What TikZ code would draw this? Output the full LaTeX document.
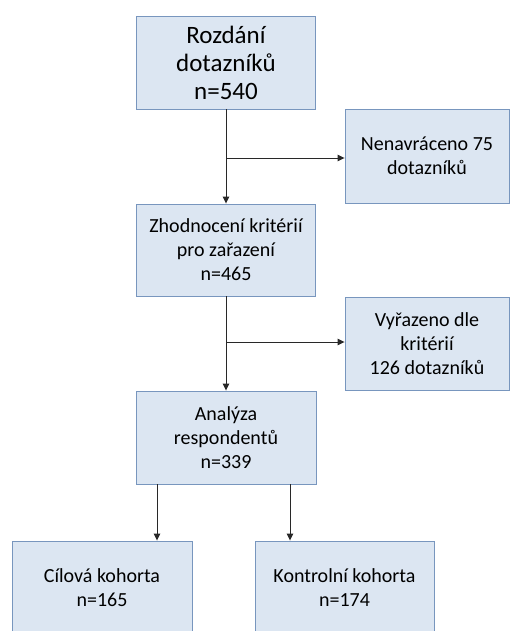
\documentclass[tikz,border=0pt]{standalone}
\usepackage{fontspec}
\setmainfont{Carlito}
\usepackage{tikz}
\usetikzlibrary{positioning, arrows.meta}
\usepackage{xcolor}

\definecolor{boxfill}{RGB}{220,230,242}
\definecolor{boxline}{RGB}{120,150,190}
\definecolor{arrline}{RGB}{40,40,40}

\begin{document}
\begin{tikzpicture}[x=1pt, y=-1pt,
    stage/.style={draw=boxline, fill=boxfill, line width=0.9pt, align=center,
        inner sep=0pt, minimum width=179pt, minimum height=93pt,
        font=\fontsize{20}{24}\selectfont},
    sidebox/.style={stage, minimum width=164pt},
    flow/.style={draw=arrline, line width=0.9pt, -{Triangle[length=7pt, width=6.5pt]}}]
    \useasboundingbox (0,0) rectangle (515,631);

    % Main column
    \node[stage, font=\fontsize{25}{28}\selectfont] (rozdani) at (226,62.5)
        {Rozdání\\dotazníků\\n=540};
    \node[stage, minimum height=92pt] (zhodnoceni) at (226,250)
        {Zhodnocení kritérií\\pro zařazení\\n=465};
    \node[stage, minimum width=180pt] (analyza) at (226,437.5)
        {Analýza\\respondentů\\n=339};

    % Side boxes (excluded)
    \node[sidebox, minimum height=94pt] (nenavraceno) at (427,156)
        {Nenavráceno 75\\dotazníků};
    \node[sidebox] (vyrazeno) at (427,343.5)
        {Vyřazeno dle\\kritérií\\126 dotazníků};

    % Cohorts (cut by the bottom edge)
    \node[stage, minimum width=180pt] (cilova) at (102,587.5)
        {Cílová kohorta\\n=165};
    \node[stage] (kontrolni) at (344.5,587.5)
        {Kontrolní kohorta\\n=174};

    % Arrows
    \coordinate (odbocka1) at (rozdani.south |- 0,158);
    \coordinate (odbocka2) at (zhodnoceni.south |- 0,342);
    \draw[flow] (rozdani.south) -- (zhodnoceni.north);
    \draw[flow] (odbocka1) -- (nenavraceno.west |- odbocka1);
    \draw[flow] (zhodnoceni.south) -- (analyza.north);
    \draw[flow] (odbocka2) -- (vyrazeno.west |- odbocka2);
    \draw[flow] ([xshift=-69pt]analyza.south) -- ([xshift=-69pt]analyza.south |- cilova.north);
    \draw[flow] ([xshift=64pt]analyza.south) -- ([xshift=64pt]analyza.south |- kontrolni.north);
\end{tikzpicture}
\end{document}
